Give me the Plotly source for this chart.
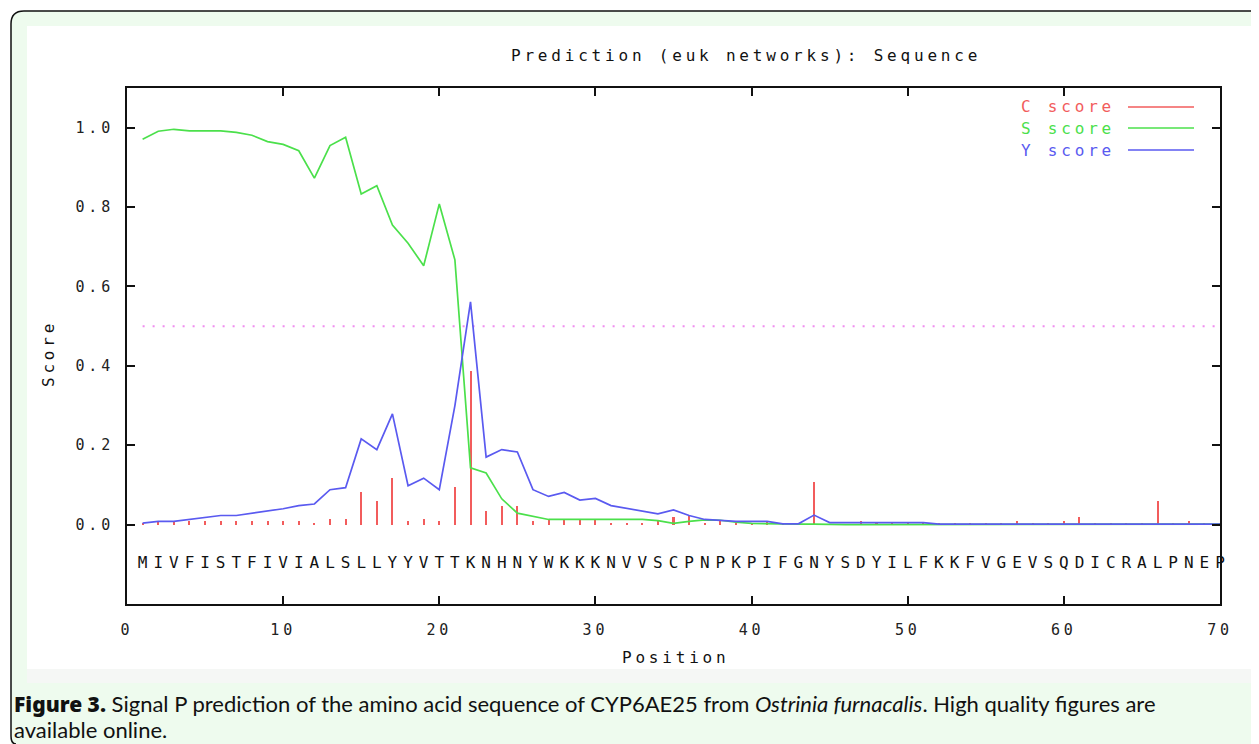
import plotly.graph_objects as go

# ---------------- data ----------------
positions = list(range(1, 71))
sequence = list("MIVFISTFIVIALSLLYYVTTKNHNYWKKKNVVSCPNPKPIFGNYSDYILFKKFVGEVSQDICRALPNEP")

c_score = [0.003, 0.008, 0.008, 0.008, 0.008, 0.008, 0.008, 0.008, 0.008, 0.008,
           0.008, 0.005, 0.015, 0.015, 0.082, 0.059, 0.117, 0.010, 0.015, 0.009,
           0.096, 0.388, 0.034, 0.048, 0.048, 0.008, 0.012, 0.012, 0.012, 0.012,
           0.005, 0.005, 0.005, 0.008, 0.020, 0.023, 0.005, 0.008, 0.002, 0.002,
           0.008, 0.002, 0.002, 0.107, 0.001, 0.001, 0.008, 0.002, 0.002, 0.002,
           0.002, 0.004, 0.004, 0.004, 0.004, 0.004, 0.010, 0.004, 0.004, 0.010,
           0.020, 0.004, 0.004, 0.004, 0.004, 0.059, 0.004, 0.010, 0.004, 0.003]

s_score = [0.971, 0.991, 0.996, 0.992, 0.992, 0.992, 0.988, 0.981, 0.965, 0.958,
           0.942, 0.873, 0.955, 0.976, 0.833, 0.854, 0.755, 0.709, 0.652, 0.808,
           0.667, 0.143, 0.130, 0.065, 0.029, 0.021, 0.013, 0.013, 0.013, 0.013,
           0.013, 0.013, 0.013, 0.010, 0.003, 0.008, 0.012, 0.011, 0.006, 0.003,
           0.002, 0.001, 0.001, 0.001, 0.000, 0.000, 0.000, 0.000, 0.000, 0.000,
           0.000, 0.001, 0.001, 0.001, 0.001, 0.001, 0.001, 0.001, 0.001, 0.001,
           0.001, 0.001, 0.001, 0.001, 0.001, 0.001, 0.001, 0.001, 0.001, 0.001]

y_score = [0.004, 0.008, 0.008, 0.013, 0.019, 0.023, 0.023, 0.029, 0.034, 0.040,
           0.048, 0.052, 0.088, 0.093, 0.216, 0.189, 0.279, 0.098, 0.117, 0.088,
           0.300, 0.561, 0.170, 0.189, 0.183, 0.088, 0.071, 0.081, 0.062, 0.066,
           0.048, 0.041, 0.033, 0.027, 0.037, 0.023, 0.013, 0.010, 0.008, 0.008,
           0.008, 0.002, 0.002, 0.024, 0.005, 0.005, 0.005, 0.005, 0.005, 0.005,
           0.005, 0.001, 0.001, 0.001, 0.001, 0.001, 0.001, 0.001, 0.001, 0.001,
           0.001, 0.001, 0.001, 0.001, 0.001, 0.001, 0.001, 0.001, 0.001, 0.001]

threshold_x = [1, 70]
threshold_y = [0.5, 0.5]
sequence_row = -0.1

x_ticks = [0, 10, 20, 30, 40, 50, 60, 70]
x_tick_labels = ["0", "10", "20", "30", "40", "50", "60", "70"]
y_ticks = [0.0, 0.2, 0.4, 0.6, 0.8, 1.0]
y_tick_labels = ["0.0", "0.2", "0.4", "0.6", "0.8", "1.0"]

legend_names = ["C score", "S score", "Y score"]

# ---------------- style ----------------
RED = "#F25C5C"
GREEN = "#4BE04B"
BLUE = "#5A5AF0"
PINK = "#F08CF0"
MONO = "DejaVu Sans Mono"
OFF = 8                      # page body margin
W, H = 1259 - OFF, 744 - OFF
ML, MT = 127 - OFF, 88 - OFF
PW, PH = 1093, 516
MR, MB = W - ML - PW, H - MT - PH


def px(x):
    return (x - OFF - ML) / PW


def py(y):
    return (H - MB - (y - OFF)) / PH


def spaced(t, ls=3.8):
    return f'<span style="letter-spacing:{ls}px">{t}</span>'


fig = go.Figure()

fig.add_trace(go.Scatter(x=threshold_x, y=threshold_y, mode="lines",
                         line=dict(color=PINK, width=2, dash="2px,8px"),
                         hoverinfo="skip", showlegend=False))
fig.add_trace(go.Bar(x=positions, y=c_score, width=0.13,
                     marker=dict(color=RED, line=dict(width=0)),
                     name=legend_names[0], showlegend=False))
fig.add_trace(go.Scatter(x=positions, y=s_score, mode="lines",
                         line=dict(color=GREEN, width=1.7),
                         name=legend_names[1], showlegend=False))
fig.add_trace(go.Scatter(x=positions, y=y_score, mode="lines",
                         line=dict(color=BLUE, width=1.7),
                         name=legend_names[2], showlegend=False))
fig.add_trace(go.Scatter(x=positions, y=[sequence_row] * len(positions),
                         mode="text", text=sequence, textposition="middle center",
                         textfont=dict(family=MONO, size=16, color="#111"),
                         cliponaxis=False, hoverinfo="skip", showlegend=False))

axis_common = dict(showline=True, mirror="ticks", linecolor="#111", linewidth=2,
                   ticks="inside", ticklen=8, tickwidth=1.5, tickcolor="#111",
                   showgrid=False, zeroline=False,
                   tickfont=dict(family=MONO, size=15, color="#222"))

fig.update_xaxes(range=[0, 70], tickvals=x_ticks,
                 ticktext=[spaced(t) for t in x_tick_labels],
                 ticklabelstandoff=11, **axis_common)
fig.update_yaxes(range=[-0.2, 1.1], tickvals=y_ticks,
                 ticktext=[spaced(t) for t in y_tick_labels],
                 ticklabelstandoff=8, **axis_common)

shapes = []
# light green figure panel
shapes.append(dict(type="path", xref="paper", yref="paper", layer="below",
                   path=(f"M {px(1290)} {py(760)} L {px(11)} {py(760)} "
                         f"L {px(11)} {py(24)} "
                         f"Q {px(11)} {py(11)} {px(24)} {py(11)} "
                         f"L {px(1290)} {py(11)} Z"),
                   fillcolor="#EEFBEE", line=dict(width=0)))
# panel border (left and top, rounded corners)
shapes.append(dict(type="path", xref="paper", yref="paper", layer="below",
                   path=(f"M {px(16)} {py(744)} Q {px(11)} {py(744)} {px(11)} {py(736)} "
                         f"L {px(11)} {py(24)} "
                         f"Q {px(11)} {py(11)} {px(24)} {py(11)} "
                         f"L {px(1290)} {py(11)}"),
                   fillcolor="rgba(0,0,0,0)", line=dict(color="#111", width=1.5)))
# white image area
shapes.append(dict(type="rect", xref="paper", yref="paper", layer="below",
                   x0=px(27), x1=px(1257), y0=py(669), y1=py(26),
                   fillcolor="white", line=dict(width=0)))
shapes.append(dict(type="rect", xref="paper", yref="paper", layer="below",
                   x0=px(27), x1=px(1257), y0=py(683), y1=py(669),
                   fillcolor="#F5F7F5", line=dict(width=0)))

annotations = []
legend_colors = [RED, GREEN, BLUE]
legend_rows = [107, 128, 150]
for name, col, yy in zip(legend_names, legend_colors, legend_rows):
    annotations.append(dict(x=px(1117), y=py(yy), xref="paper", yref="paper",
                            xanchor="right", yanchor="middle", showarrow=False,
                            text=spaced(name),
                            font=dict(family=MONO, size=16, color=col)))
    shapes.append(dict(type="line", xref="paper", yref="paper",
                       x0=px(1128), x1=px(1194), y0=py(yy), y1=py(yy),
                       line=dict(color=col, width=1.7)))

annotations.append(dict(x=px(746), y=py(55), xref="paper", yref="paper",
                        xanchor="center", yanchor="middle", showarrow=False,
                        text=spaced("Prediction (euk networks): Sequence"),
                        font=dict(family=MONO, size=16, color="#111")))
annotations.append(dict(x=px(675), y=py(657), xref="paper", yref="paper",
                        xanchor="center", yanchor="middle", showarrow=False,
                        text=spaced("Position"),
                        font=dict(family=MONO, size=16, color="#111")))
annotations.append(dict(x=px(48), y=py(354), xref="paper", yref="paper",
                        xanchor="center", yanchor="middle", showarrow=False,
                        textangle=-90, text=spaced("Score"),
                        font=dict(family=MONO, size=16, color="#111")))
annotations.append(dict(x=px(12), y=py(704), xref="paper", yref="paper",
                        xanchor="left", yanchor="middle", showarrow=False,
                        text=('<span style="font-family:Noto Sans;font-weight:900;font-size:21px">Figure 3.</span>'
                              " Signal P prediction of the amino acid sequence "
                              "of CYP6AE25 from <i>Ostrinia furnacalis</i>. High quality figures are"),
                        font=dict(family="Lato", size=22, color="#111")))
annotations.append(dict(x=px(12), y=py(729), xref="paper", yref="paper",
                        xanchor="left", yanchor="middle", showarrow=False,
                        text="available online.",
                        font=dict(family="Lato", size=22, color="#111")))

fig.update_layout(width=W, height=H, autosize=False,
                  margin=dict(l=ML, r=MR, t=MT, b=MB, pad=0),
                  paper_bgcolor="white", plot_bgcolor="white",
                  shapes=shapes, annotations=annotations,
                  bargap=0, showlegend=False)

fig.write_html("out.html")
